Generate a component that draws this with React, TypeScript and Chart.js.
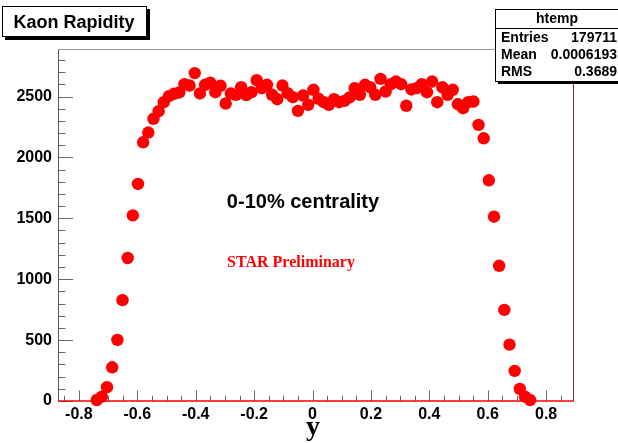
import { useEffect, useRef } from 'react';
import { Chart, registerables } from 'chart.js';

Chart.register(...registerables);

// Histogram definition (100 equal bins over the filled range)
const HIST_MIN = -0.8716;
const HIST_MAX = 0.8955;
const N_BINS = 100;
const FIRST_FILLED_BIN = 7;

// Entries per rapidity bin, starting at FIRST_FILLED_BIN
const BIN_COUNTS = [
  8, 35, 113, 277, 502, 828, 1174, 1524, 1782, 2124,
  2204, 2317, 2379, 2453, 2503, 2522, 2533, 2601, 2590, 2692,
  2525, 2596, 2613, 2535, 2588, 2442, 2525, 2514, 2576, 2511,
  2535, 2634, 2568, 2596, 2514, 2478, 2590, 2527, 2494, 2382,
  2508, 2432, 2555, 2481, 2453, 2432, 2478, 2453, 2464, 2492,
  2568, 2514, 2596, 2576, 2514, 2645, 2541, 2601, 2623, 2601,
  2424, 2558, 2568, 2601, 2535, 2623, 2453, 2576, 2514, 2555,
  2437, 2404, 2453, 2459, 2267, 2157, 1812, 1513, 1110, 748,
  463, 247, 99, 35, 8,
];

const X_TICKS = [-0.8, -0.6, -0.4, -0.2, 0, 0.2, 0.4, 0.6, 0.8];
const Y_TICKS = [0, 500, 1000, 1500, 2000, 2500];
const Y_MAX = 2890;

const TITLE = 'Kaon Rapidity';
const STATS_NAME = 'htemp';
const STATS_LABELS = ['Entries', 'Mean', 'RMS'];
const STATS_VALUES = ['179711', '0.0006193', '0.3689'];
const CENTRALITY_TEXT = '0-10% centrality';
const PRELIM_TEXT = 'STAR Preliminary';
const X_TITLE = 'y';

const SANS = '"Liberation Sans", Arial, Helvetica, sans-serif';
const SERIF = '"Liberation Serif", "Times New Roman", serif';

const binWidth = (HIST_MAX - HIST_MIN) / N_BINS;
const points = BIN_COUNTS.map((c, k) => ({
  x: HIST_MIN + (FIRST_FILLED_BIN + k + 0.5) * binWidth,
  y: c,
}));

const line = (ctx: CanvasRenderingContext2D, x1: number, y1: number, x2: number, y2: number) => {
  ctx.beginPath();
  ctx.moveTo(x1, y1);
  ctx.lineTo(x2, y2);
  ctx.stroke();
};

// ROOT-style frame: inward ticks, gray frame, red histogram baseline
const framePlugin = {
  id: 'rootFrame',
  beforeDatasetsDraw(chart: any) {
    const { ctx, chartArea: a, scales } = chart;
    const xs = scales.x;
    const ys = scales.y;
    ctx.save();
    ctx.lineWidth = 1;
    ctx.strokeStyle = '#666';
    // x ticks
    for (let k = -17; k <= 17; k++) {
      const v = k * 0.05;
      if (v < xs.min || v > xs.max) continue;
      const px = Math.round(xs.getPixelForValue(v)) + 0.5;
      const len = k % 4 === 0 ? 10.5 : 5.3;
      line(ctx, px, a.bottom, px, a.bottom - len);
    }
    // y ticks
    for (let k = 0; k <= 28; k++) {
      const v = k * 100;
      const py = Math.round(ys.getPixelForValue(v)) + 0.5;
      const len = k % 5 === 0 ? 15 : 7.5;
      line(ctx, a.left, py, a.left + len, py);
    }
    // frame
    ctx.strokeStyle = '#555';
    line(ctx, a.left + 0.5, a.top, a.left + 0.5, a.bottom);
    ctx.strokeStyle = '#999';
    line(ctx, a.left, a.top + 0.5, a.right, a.top + 0.5);
    ctx.strokeStyle = '#8b2a2a';
    line(ctx, a.right - 0.5, a.top, a.right - 0.5, a.bottom);
    ctx.strokeStyle = '#ff0000';
    ctx.lineWidth = 1.5;
    line(ctx, a.left, a.bottom, a.right, a.bottom);
    ctx.restore();
  },
  afterDraw(chart: any) {
    const { ctx } = chart;
    ctx.save();

    // title box with drop shadow
    ctx.fillStyle = '#000';
    ctx.fillRect(5, 9, 145, 31);
    ctx.fillStyle = '#fff';
    ctx.fillRect(2, 6, 145, 31);
    ctx.strokeStyle = '#000';
    ctx.lineWidth = 1;
    ctx.strokeRect(2.5, 6.5, 144, 30);
    ctx.fillStyle = '#000';
    ctx.font = `bold 18px ${SANS}`;
    ctx.textAlign = 'center';
    ctx.textBaseline = 'middle';
    ctx.fillText(TITLE, 74, 23);

    // statistics box
    const bx = 495;
    const by = 9;
    const bw = 130;
    const bh = 72;
    ctx.fillStyle = '#000';
    ctx.fillRect(bx + 3, by + 3, bw, bh);
    ctx.fillStyle = '#fff';
    ctx.fillRect(bx, by, bw, bh);
    ctx.strokeStyle = '#000';
    ctx.strokeRect(bx + 0.5, by + 0.5, bw, bh);
    line(ctx, bx, by + 19.5, bx + bw, by + 19.5);
    ctx.fillStyle = '#000';
    ctx.font = `bold 14px ${SANS}`;
    ctx.textAlign = 'center';
    ctx.fillText(STATS_NAME, 557, by + 10);
    STATS_LABELS.forEach((lab, i) => {
      const ty = 38 + i * 17;
      ctx.textAlign = 'left';
      ctx.fillText(lab, 501, ty);
      ctx.textAlign = 'right';
      ctx.fillText(STATS_VALUES[i], 617, ty);
    });

    // annotations
    ctx.textAlign = 'center';
    ctx.font = `bold 20px ${SANS}`;
    ctx.fillText(CENTRALITY_TEXT, 303, 202);
    ctx.fillStyle = '#ff0000';
    ctx.font = `bold 16px ${SERIF}`;
    ctx.fillText(PRELIM_TEXT, 291, 263);

    // x axis title
    ctx.fillStyle = '#000';
    ctx.font = `bold 28px ${SERIF}`;
    ctx.fillText(X_TITLE, 313, 428);
    ctx.restore();
  },
};

export default function App() {
  const canvasRef = useRef<HTMLCanvasElement | null>(null);

  useEffect(() => {
    const canvas = canvasRef.current;
    if (!canvas) return;
    const chart = new Chart(canvas, {
      type: 'scatter',
      data: {
        datasets: [
          {
            data: points,
            pointRadius: 6.2,
            pointHoverRadius: 6.2,
            pointBackgroundColor: '#ff0000',
            pointBorderWidth: 0,
            borderWidth: 0,
            showLine: false,
            clip: false as any,
          },
        ],
      },
      options: {
        responsive: false,
        animation: false,
        devicePixelRatio: 1,
        layout: { padding: { left: 0, top: 49, right: 44, bottom: 0 } },
        plugins: {
          legend: { display: false },
          tooltip: { enabled: false },
        },
        events: [],
        scales: {
          x: {
            type: 'linear',
            min: HIST_MIN,
            max: HIST_MAX,
            grid: { display: false, drawTicks: false },
            border: { display: false },
            afterBuildTicks: (scale: any) => {
              scale.ticks = X_TICKS.map((v) => ({ value: v }));
            },
            afterFit: (scale: any) => {
              scale.height = 42;
            },
            ticks: {
              autoSkip: false,
              maxRotation: 0,
              padding: 4,
              color: '#000',
              font: { family: SANS, size: 16, weight: 'bold' },
              callback: (v: any) => String(Math.round(Number(v) * 10) / 10),
            },
          },
          y: {
            type: 'linear',
            min: 0,
            max: Y_MAX,
            grid: { display: false, drawTicks: false },
            border: { display: false },
            afterBuildTicks: (scale: any) => {
              scale.ticks = Y_TICKS.map((v) => ({ value: v }));
            },
            afterFit: (scale: any) => {
              scale.width = 58;
            },
            ticks: {
              autoSkip: false,
              padding: 6,
              color: '#000',
              font: { family: SANS, size: 16, weight: 'bold' },
              callback: (v: any) => String(v),
            },
          },
        },
      },
      plugins: [framePlugin],
    });
    return () => chart.destroy();
  }, []);

  return (
    <div style={{ position: 'fixed', left: 0, top: 0, width: 618, height: 443, background: '#fff' }}>
      <canvas ref={canvasRef} width={618} height={443} style={{ display: 'block' }} />
    </div>
  );
}
